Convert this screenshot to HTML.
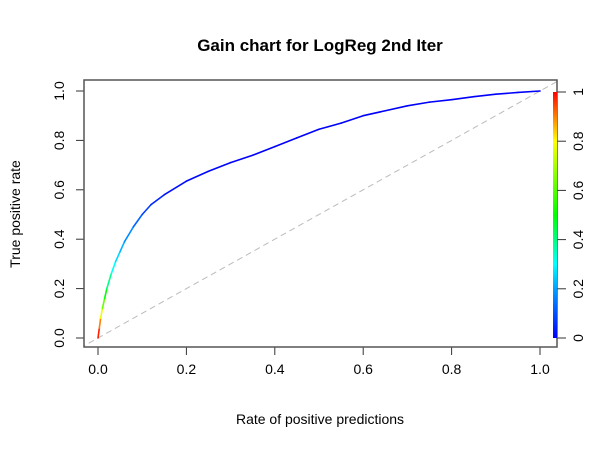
<!DOCTYPE html>
<html><head><meta charset="utf-8"><style>
html,body{margin:0;padding:0;background:#fff;}
svg{display:block;font-family:"Liberation Sans",Arial,sans-serif;}
</style></head><body>
<svg id="chart" width="600" height="450" viewBox="0 0 600 450">
<defs>
<linearGradient id="rb" x1="0" y1="1" x2="0" y2="0">
<stop offset="0" stop-color="#0000ff"/><stop offset="0.2" stop-color="#00a0ff"/>
<stop offset="0.3" stop-color="#00ffff"/><stop offset="0.5" stop-color="#00ff00"/>
<stop offset="0.8" stop-color="#ffff00"/><stop offset="0.9" stop-color="#ff8000"/>
<stop offset="1" stop-color="#ff0000"/></linearGradient>
<clipPath id="clip"><rect x="84" y="80" width="473" height="267"/></clipPath>
</defs>
<text x="320" y="51" text-anchor="middle" font-size="17" font-weight="bold">Gain chart for LogReg 2nd Iter</text>
<text x="320" y="424" text-anchor="middle" font-size="14">Rate of positive predictions</text>
<text transform="translate(20,214) rotate(-90)" text-anchor="middle" font-size="14">True positive rate</text>
<g id="axes"></g>
<g id="marks" clip-path="url(#clip)"></g>
<rect x="84" y="80" width="473" height="267" fill="none" stroke="#555" stroke-width="1.5"/>
<rect x="553" y="92" width="4" height="246" fill="url(#rb)"/>
</svg>
<script>
const xVals=[0,0.003,0.006,0.01,0.015,0.02,0.03,0.04,0.05,0.06,0.08,0.1,0.12,0.15,0.2,0.25,0.3,0.35,0.4,0.45,0.5,0.55,0.6,0.65,0.7,0.75,0.8,0.85,0.9,0.95,1];
const yVals=[0,0.04,0.08,0.12,0.16,0.2,0.26,0.31,0.35,0.39,0.45,0.5,0.54,0.58,0.635,0.675,0.71,0.74,0.775,0.81,0.845,0.87,0.9,0.92,0.94,0.955,0.965,0.977,0.987,0.994,1];
const cutoffs=[1,0.95,0.85,0.7,0.55,0.45,0.33,0.28,0.24,0.2,0.15,0.1,0.06,0.03,0.01,0.01,0,0,0,0,0,0,0,0,0,0,0,0,0,0,0];
const xTicks=[0,0.2,0.4,0.6,0.8,1];
const xTickLabels=["0.0","0.2","0.4","0.6","0.8","1.0"];
const yTicks=[0,0.2,0.4,0.6,0.8,1];
const yTickLabels=["0.0","0.2","0.4","0.6","0.8","1.0"];
const cTicks=[0,0.2,0.4,0.6,0.8,1];
const cTickLabels=["0","0.2","0.4","0.6","0.8","1"];
const sx=v=>98+v*442, sy=v=>338-v*247, sc=v=>338-v*246;
const NS="http://www.w3.org/2000/svg";
const axes=document.getElementById('axes'), marks=document.getElementById('marks');
function mk(tag,at,par){const e=document.createElementNS(NS,tag);for(const k in at)e.setAttribute(k,at[k]);par.appendChild(e);return e;}
function col(c){const stops=[[0,[0,0,255]],[0.2,[0,160,255]],[0.3,[0,255,255]],[0.5,[0,255,0]],[0.8,[255,255,0]],[0.9,[255,128,0]],[1,[255,0,0]]];
for(let i=1;i<stops.length;i++){if(c<=stops[i][0]){const a=stops[i-1],b=stops[i],t=(c-a[0])/(b[0]-a[0]);return 'rgb('+a[1].map((v,j)=>Math.round(v+(b[1][j]-v)*t)).join(',')+')';}}return 'rgb(255,0,0)';}
const diag=mk('line',{x1:sx(-0.1),y1:sy(-0.1),x2:sx(1.1),y2:sy(1.1),stroke:'#bbb','stroke-width':1,'stroke-dasharray':'6,4'},marks);


for(let i=0;i<xVals.length-1;i++){
const s=mk('line',{x1:sx(xVals[i]),y1:sy(yVals[i]),x2:sx(xVals[i+1]),y2:sy(yVals[i+1]),stroke:col((cutoffs[i]+cutoffs[i+1])/2),'stroke-width':1.6,'stroke-linecap':'round'},marks);

}
xTicks.forEach((v,i)=>{const x=sx(v);
mk('line',{x1:x,y1:347,x2:x,y2:355,stroke:'#333'},axes);
const t=mk('text',{x:x,y:374,'text-anchor':'middle','font-size':14},axes);t.textContent=xTickLabels[i];

});
yTicks.forEach((v,i)=>{const y=sy(v);
mk('line',{x1:76,y1:y,x2:84,y2:y,stroke:'#333'},axes);
const t=mk('text',{transform:`translate(64,${y}) rotate(-90)`,'text-anchor':'middle','font-size':14},axes);t.textContent=yTickLabels[i];

});
cTicks.forEach((v,i)=>{const y=sc(v);
mk('line',{x1:557,y1:y,x2:566,y2:y,stroke:'#333'},axes);
const t=mk('text',{transform:`translate(583,${y}) rotate(-90)`,'text-anchor':'middle','font-size':14},axes);t.textContent=cTickLabels[i];

});
</script>
</body></html>
